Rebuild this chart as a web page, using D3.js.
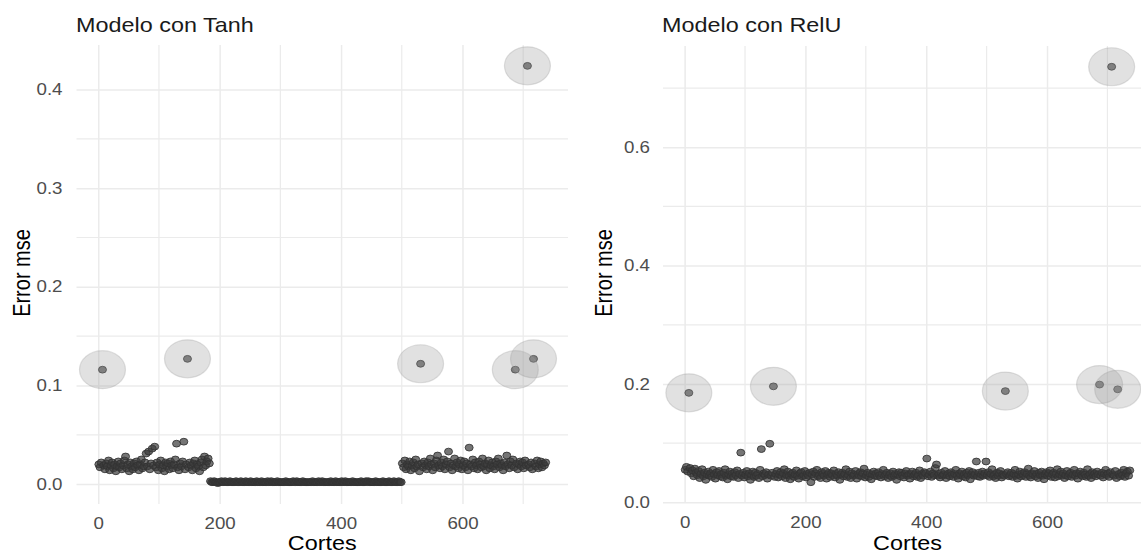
<!DOCTYPE html>
<html>
<head>
<meta charset="utf-8">
<script src="https://cdn.jsdelivr.net/npm/d3@7"></script>
<style>
  html, body { margin: 0; padding: 0; background: #ffffff; }
  svg { display: block; font-family: "Liberation Sans", Arial, Helvetica, sans-serif; }
</style>
</head>
<body>
<svg id="chart" width="1141" height="554"></svg>
<script>
// ---------------- DATA (values in thousandths of mse) ----------------
const panelTitles = ["Modelo con Tanh", "Modelo con RelU"];
const xLabel = "Cortes";
const yLabel = "Error mse";
const xStep = 2;            // one point drawn every 2 cortes, starting at corte 1
const xStart = 1;

// Tanh model, three regimes
const tanhSeg1 = [ // cortes 1..183
  20,17,22,116,19,15,21,18,24,14,
  19,22,16,20,13,18,23,17,21,15,
  19,24,28,16,20,13,22,18,15,21,
  17,23,19,14,20,25,16,18,22,31,
  18,33,15,21,36,19,38,17,22,14,
  20,24,16,19,13,22,18,21,15,23,
  19,16,20,25,41,17,14,21,18,23,
  43,15,20,127,17,22,19,14,21,24,
  16,20,18,13,22,25,17,28,19,23,
  26,21
];
const tanhSeg2 = [ // cortes 185..499
  3,2,2,3,2,2,1,2,2,3, 2,2,3,2,2,2,3,2,2,2, 2,3,2,2,2,3,2,2,2,3,
  2,2,2,3,2,2,2,2,3,2, 2,2,3,2,2,2,2,3,2,2, 3,2,2,2,2,3,2,2,2,2,
  2,2,3,2,2,2,2,2,3,2, 2,3,2,2,2,2,3,2,2,2, 2,2,2,2,3,2,2,2,2,3,
  2,2,3,2,2,2,2,2,2,3, 2,2,2,3,2,2,2,2,3,2, 2,3,2,2,2,2,2,3,2,2,
  2,2,2,2,3,2,2,2,3,2, 3,2,2,2,2,2,3,2,2,2, 2,2,3,2,2,2,2,3,2,2,
  2,3,2,2,2,3,2,2
];
const tanhSeg3 = [ // cortes 501..737
  21,17,24,15,20,18,23,14,19,22,
  16,25,18,20,13,122,21,17,23,19,
  15,22,18,26,20,14,21,17,24,29,
  19,16,22,18,25,15,20,23,33,17,
  21,14,19,26,18,22,16,20,24,15,
  19,23,17,21,14,37,20,18,25,16,
  22,19,15,23,20,17,26,18,21,14,
  20,24,16,19,22,18,15,23,20,26,
  17,21,19,14,22,18,29,20,16,23,
  19,25,17,116,21,15,20,23,18,22,
  16,24,19,424,20,17,22,15,127,21,
  18,24,16,20,23,17,21,19,22
];
const reluValues = [ // cortes 1..737
  55,60,52,185,58,49,54,44,57,50, 46,53,41,48,56,44,50,38,47,52,
  45,49,43,55,47,40,51,46,53,44, 48,42,50,56,45,39,47,52,44,49,
  43,51,46,54,41,48,84,45,50,42, 47,53,44,49,38,46,52,43,50,45,
  48,41,55,90,44,49,46,51,40,47, 99,45,50,196,43,48,53,42,47,51,
  44,49,56,41,46,52,45,39,48,50, 43,47,54,45,40,49,51,44,46,53,
  42,48,45,50,34,47,52,43,49,55, 44,46,41,51,48,45,53,40,47,50,
  43,49,46,54,42,48,45,51,38,47, 50,44,48,56,43,46,52,41,49,45,
  47,53,40,48,45,51,44,49,57,42, 46,50,43,48,39,47,52,45,49,44,
  51,46,42,48,55,44,47,50,41,46, 49,43,52,45,48,38,47,51,44,50,
  46,42,49,53,45,47,40,48,52,44, 47,50,43,46,54,41,48,45,51,49,
  74,44,47,52,43,49,46,58,64,45, 48,42,50,45,47,53,41,46,49,44,
  51,47,43,48,55,45,40,49,46,52, 44,48,42,50,46,53,39,47,51,45,
  48,69,44,50,43,47,52,45,49,69, 46,51,43,48,56,44,47,41,50,45,
  49,53,42,47,45,188,48,51,44,46, 50,43,48,55,45,40,47,52,44,49,
  46,51,43,48,57,45,42,49,47,53, 44,48,41,50,46,52,45,39,48,51,
  45,49,54,43,47,50,42,48,56,44, 47,52,45,49,41,46,53,44,48,50,
  43,47,55,45,49,40,48,52,46,44, 50,47,43,56,45,48,41,51,46,49,
  44,52,47,199,45,50,42,48,55,46, 49,43,51,736,47,45,53,41,191,48,
  44,50,46,55,43,49,52,45,54
];
const highlightCortes = [7, 147, 531, 687, 707, 717];
const tanhYTicks = [0, 0.1, 0.2, 0.3, 0.4];
const tanhYMinor = [0.05, 0.15, 0.25, 0.35, 0.45];
const reluYTicks = [0, 0.2, 0.4, 0.6];
const reluYMinor = [0.1, 0.3, 0.5, 0.7];
const xTicks = [0, 200, 400, 600];
const xMinor = [100, 300, 500, 700];

// ---------------- BUILD ----------------
function toPoints(vals) {
  return vals.map((v, i) => ({ x: xStart + i * xStep, y: v / 1000 }));
}
const tanhPoints = toPoints(tanhSeg1.concat(tanhSeg2, tanhSeg3));
const reluPoints = toPoints(reluValues);

const SX = 1.17; // horizontal stretch of the original rendering
const svg = d3.select("#chart");
svg.append("rect").attr("width", 1141).attr("height", 554).attr("fill", "#fff");

const panels = [
  { title: panelTitles[0], pts: tanhPoints, yt: tanhYTicks, ym: tanhYMinor,
    left: 76.5, right: 568, top: 45, bottom: 504, titleX: 76, ylabX: 30, ytickPad: 14 },
  { title: panelTitles[1], pts: reluPoints, yt: reluYTicks, ym: reluYMinor,
    left: 663, right: 1152, top: 46, bottom: 503, titleX: 662, ylabX: 612, ytickPad: 13 }
];

function expand(ext) {
  const r = ext[1] - ext[0];
  return [ext[0] - 0.05 * r, ext[1] + 0.05 * r];
}

panels.forEach(p => {
  const x = d3.scaleLinear().domain(expand(d3.extent(p.pts, d => d.x))).range([p.left, p.right]);
  const y = d3.scaleLinear().domain(expand(d3.extent(p.pts, d => d.y))).range([p.bottom, p.top]);
  const g = svg.append("g");
  const inX = v => v >= x.domain()[0] && v <= x.domain()[1];
  const inY = v => v >= y.domain()[0] - 1e-9 && v <= y.domain()[1];

  // minor grid
  g.append("g").selectAll("line").data(xMinor.filter(inX)).join("line")
    .attr("x1", d => x(d)).attr("x2", d => x(d)).attr("y1", p.top).attr("y2", p.bottom)
    .attr("stroke", "#ebebeb").attr("stroke-width", 1.2);
  g.append("g").selectAll("line").data(p.ym.filter(inY)).join("line")
    .attr("y1", d => y(d)).attr("y2", d => y(d)).attr("x1", p.left).attr("x2", p.right)
    .attr("stroke", "#ebebeb").attr("stroke-width", 1.2);

  // major grid + labels via axes
  const xAxis = d3.axisBottom(x).tickValues(xTicks.filter(inX)).tickFormat(d3.format("d"))
    .tickSize(-(p.bottom - p.top)).tickPadding(0);
  const xg = g.append("g").attr("transform", `translate(0,${p.bottom})`).call(xAxis);
  xg.select(".domain").remove();
  xg.selectAll(".tick line").attr("stroke", "#ebebeb").attr("stroke-width", 1.5);
  xg.selectAll(".tick text").attr("y", 0).attr("dy", null)
    .attr("transform", `translate(0,24.5) scale(${SX},1)`)
    .attr("fill", "#4d4d4d").attr("font-size", 16);

  const yAxis = d3.axisLeft(y).tickValues(p.yt.filter(inY)).tickFormat(d3.format(".1f"))
    .tickSize(-(p.right - p.left)).tickPadding(0);
  const yg = g.append("g").attr("transform", `translate(${p.left},0)`).call(yAxis);
  yg.select(".domain").remove();
  yg.selectAll(".tick line").attr("stroke", "#ebebeb").attr("stroke-width", 1.5);
  yg.selectAll(".tick text").attr("x", 0)
    .attr("transform", `translate(${-p.ytickPad},0) scale(${SX},1)`)
    .attr("fill", "#4d4d4d").attr("font-size", 16);
  g.selectAll("g").attr("font-family", null);

  // points
  g.append("g").selectAll("ellipse").data(p.pts).join("ellipse")
    .attr("cx", d => x(d.x)).attr("cy", d => y(d.y)).attr("rx", 4.0).attr("ry", 3.4)
    .attr("fill", "#3a3a3a").attr("fill-opacity", 0.7)
    .attr("stroke", "#333").attr("stroke-opacity", 0.85).attr("stroke-width", 1);

  // highlight rings
  const hl = p.pts.filter(d => highlightCortes.includes(d.x));
  g.append("g").selectAll("ellipse").data(hl).join("ellipse")
    .attr("cx", d => x(d.x)).attr("cy", d => y(d.y)).attr("rx", 23).attr("ry", 19)
    .attr("fill", "#9a9a9a").attr("fill-opacity", 0.3)
    .attr("stroke", "#9a9a9a").attr("stroke-opacity", 0.3).attr("stroke-width", 1.2);

  // titles
  svg.append("text").attr("transform", `translate(${p.titleX},31.5) scale(${SX},1)`)
    .attr("font-size", 20).attr("fill", "#1a1a1a").text(p.title);
  svg.append("text").attr("transform", `translate(${(p.left + p.right) / 2},549.5) scale(${SX},1)`)
    .attr("text-anchor", "middle").attr("font-size", 20).attr("fill", "#000").text(xLabel);
  svg.append("text").attr("transform", `translate(${p.ylabX},273) scale(${SX},1) rotate(-90)`)
    .attr("text-anchor", "middle").attr("font-size", 20).attr("fill", "#000").text(yLabel);
});
</script>
</body>
</html>
